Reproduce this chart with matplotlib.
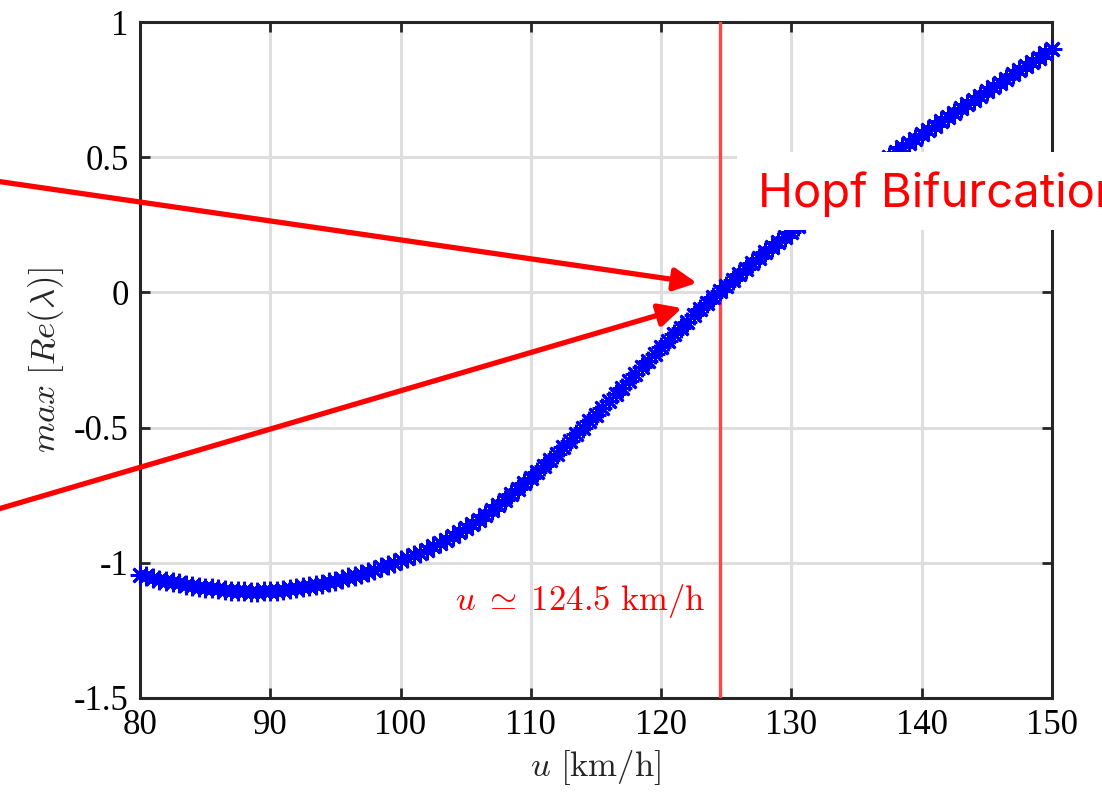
import numpy as np
import matplotlib
matplotlib.use("Agg")
import matplotlib.pyplot as plt
from matplotlib.patches import Rectangle

u = np.arange(80, 150.5, 0.5)
re_max = [
    -1.045, -1.050, -1.057, -1.062, -1.067, -1.072, -1.076, -1.081, -1.085, -1.089,
    -1.092, -1.095, -1.098, -1.101, -1.103, -1.105, -1.106, -1.107, -1.107, -1.106,
    -1.105, -1.103, -1.101, -1.098, -1.095, -1.091, -1.087, -1.082, -1.077, -1.072,
    -1.066, -1.060, -1.054, -1.047, -1.040, -1.033, -1.025, -1.017, -1.008, -0.999,
    -0.990, -0.981, -0.972, -0.962, -0.951, -0.939, -0.927, -0.914, -0.901, -0.887,
    -0.872, -0.856, -0.840, -0.823, -0.805, -0.786, -0.767, -0.747, -0.727, -0.706,
    -0.685, -0.663, -0.641, -0.619, -0.596, -0.573, -0.549, -0.525, -0.501, -0.477,
    -0.452, -0.427, -0.402, -0.377, -0.352, -0.327, -0.302, -0.277, -0.252, -0.227,
    -0.203, -0.179, -0.155, -0.131, -0.108, -0.085, -0.062, -0.040, -0.018, 0.004,
    0.025, 0.047, 0.068, 0.088, 0.108, 0.128, 0.148, 0.168, 0.187, 0.206,
    0.225, 0.244, 0.263, 0.282, 0.300, 0.319, 0.338, 0.356, 0.375, 0.394,
    0.412, 0.431, 0.450, 0.467, 0.485, 0.502, 0.519, 0.536, 0.552, 0.569,
    0.585, 0.601, 0.617, 0.633, 0.649, 0.665, 0.681, 0.697, 0.713, 0.728,
    0.744, 0.760, 0.775, 0.791, 0.806, 0.822, 0.837, 0.853, 0.868, 0.884,
    0.899,
]
u_hopf = 124.5

xticks = [80, 90, 100, 110, 120, 130, 140, 150]
yticks = [-1.5, -1, -0.5, 0, 0.5, 1]
ytick_labels = ["-1.5", "-1", "-0.5", "0", "0.5", "1"]

plt.rcParams["mathtext.fontset"] = "cm"

fig = plt.figure(figsize=(11.02, 7.92), dpi=100)
ax = fig.add_axes([0.127, 0.1187, 0.8276, 0.8535])

ax.grid(True, color="#dedede", linewidth=2.2, zorder=0)
ax.axhline(0, color="#606060", linewidth=1.8, zorder=1)
ax.axvline(u_hopf, color="#ff4545", linewidth=2.4, zorder=3)

# MATLAB-style asterisk markers
ax.plot(u, re_max, color="#0000ff", linestyle="-", linewidth=2,
        marker=(8, 2, 0), markersize=14, markeredgewidth=2, zorder=4,
        clip_on=False)

ax.text(123.4, -1.14, r"$u\;\simeq\;124.5\ \mathrm{km/h}$", color="red",
        fontsize=25, ha="right", va="center", zorder=5)

ax.set_xlim(80, 150)
ax.set_ylim(-1.5, 1)
ax.set_xticks(xticks)
ax.set_yticks(yticks)
ax.set_yticklabels(ytick_labels)
ax.tick_params(direction="in", length=7, width=2, top=True, right=True,
               labelsize=25, pad=8, color="#262626")
for lab in ax.get_xticklabels() + ax.get_yticklabels():
    lab.set_fontfamily("Liberation Serif")
for s in ax.spines.values():
    s.set_linewidth(2.2)
    s.set_color("#262626")

ax.set_xlabel(r"$u\ [\mathrm{km/h}]$", fontsize=25, labelpad=4, color="#262626")
ax.set_ylabel(r"$max\ [Re(\lambda)]$", fontsize=25, labelpad=6, color="#262626")

# red arrows pointing at the crossing
arrow = dict(arrowstyle="-|>", color="red", lw=3.8, mutation_scale=34,
             shrinkA=0, shrinkB=0)
ax.annotate("", xy=(122.75, 0.035), xytext=(69.2, 0.41),
            arrowprops=arrow, annotation_clip=False, zorder=6)
ax.annotate("", xy=(121.6, -0.058), xytext=(69.2, -0.80),
            arrowprops=arrow, annotation_clip=False, zorder=6)

# white label box on the right (text runs off the edge as in the original)
fig.add_artist(Rectangle((0.669, 0.7096), 0.4, 0.0985, transform=fig.transFigure,
                         facecolor="white", edgecolor="none", zorder=2))
fig.text(0.688, 0.7386, "Hopf Bifurcation", color="red", fontsize=34,
         family="Inter", va="baseline", ha="left", zorder=3)

fig.savefig("out.png", dpi=100)
